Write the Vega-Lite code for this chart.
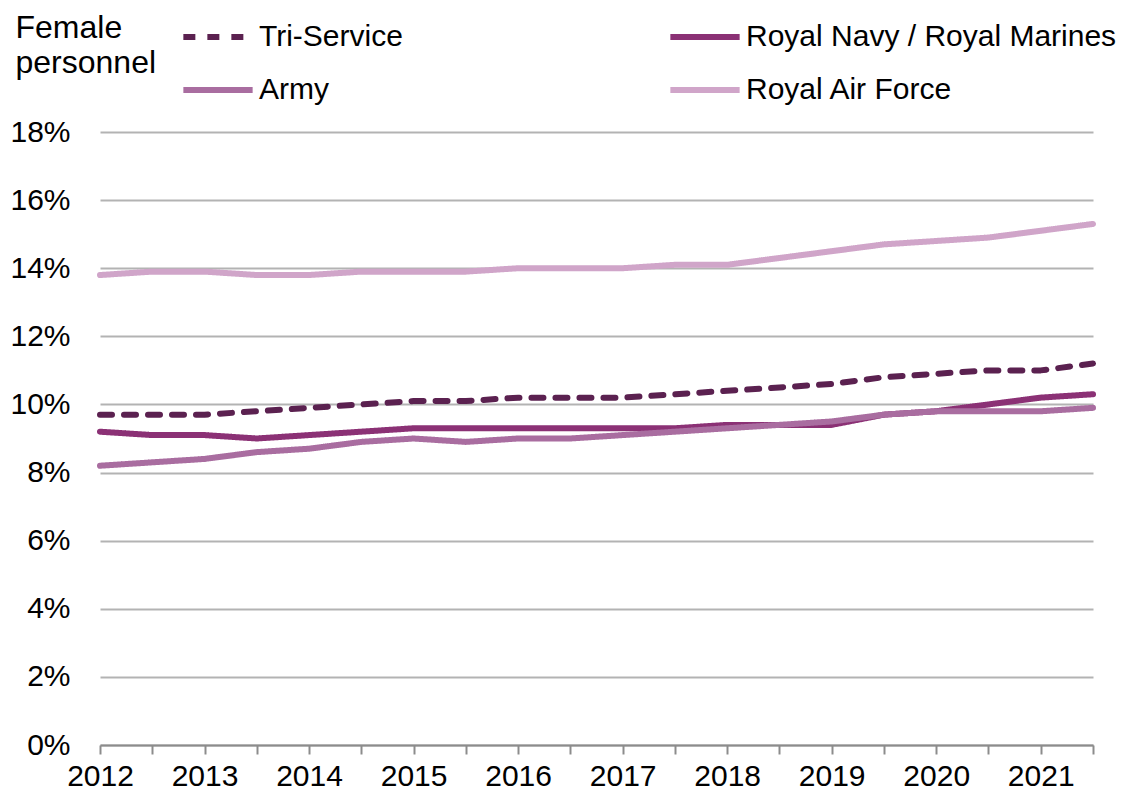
{
  "$schema": "https://vega.github.io/schema/vega-lite/v6.json",
  "width": 993,
  "height": 613,
  "autosize": {"type": "none"},
  "padding": {"left": 100, "top": 132, "right": 54, "bottom": 49},
  "background": "white",
  "config": {
    "font": "Liberation Sans",
    "view": {"stroke": null}
  },
  "data": {
    "values": [
      {"year": 2012, "service": "Tri-Service", "value": 9.7},
      {"year": 2012.5, "service": "Tri-Service", "value": 9.7},
      {"year": 2013, "service": "Tri-Service", "value": 9.7},
      {"year": 2013.5, "service": "Tri-Service", "value": 9.8},
      {"year": 2014, "service": "Tri-Service", "value": 9.9},
      {"year": 2014.5, "service": "Tri-Service", "value": 10.0},
      {"year": 2015, "service": "Tri-Service", "value": 10.1},
      {"year": 2015.5, "service": "Tri-Service", "value": 10.1},
      {"year": 2016, "service": "Tri-Service", "value": 10.2},
      {"year": 2016.5, "service": "Tri-Service", "value": 10.2},
      {"year": 2017, "service": "Tri-Service", "value": 10.2},
      {"year": 2017.5, "service": "Tri-Service", "value": 10.3},
      {"year": 2018, "service": "Tri-Service", "value": 10.4},
      {"year": 2018.5, "service": "Tri-Service", "value": 10.5},
      {"year": 2019, "service": "Tri-Service", "value": 10.6},
      {"year": 2019.5, "service": "Tri-Service", "value": 10.8},
      {"year": 2020, "service": "Tri-Service", "value": 10.9},
      {"year": 2020.5, "service": "Tri-Service", "value": 11.0},
      {"year": 2021, "service": "Tri-Service", "value": 11.0},
      {"year": 2021.5, "service": "Tri-Service", "value": 11.2},

      {"year": 2012, "service": "Royal Navy / Royal Marines", "value": 9.2},
      {"year": 2012.5, "service": "Royal Navy / Royal Marines", "value": 9.1},
      {"year": 2013, "service": "Royal Navy / Royal Marines", "value": 9.1},
      {"year": 2013.5, "service": "Royal Navy / Royal Marines", "value": 9.0},
      {"year": 2014, "service": "Royal Navy / Royal Marines", "value": 9.1},
      {"year": 2014.5, "service": "Royal Navy / Royal Marines", "value": 9.2},
      {"year": 2015, "service": "Royal Navy / Royal Marines", "value": 9.3},
      {"year": 2015.5, "service": "Royal Navy / Royal Marines", "value": 9.3},
      {"year": 2016, "service": "Royal Navy / Royal Marines", "value": 9.3},
      {"year": 2016.5, "service": "Royal Navy / Royal Marines", "value": 9.3},
      {"year": 2017, "service": "Royal Navy / Royal Marines", "value": 9.3},
      {"year": 2017.5, "service": "Royal Navy / Royal Marines", "value": 9.3},
      {"year": 2018, "service": "Royal Navy / Royal Marines", "value": 9.4},
      {"year": 2018.5, "service": "Royal Navy / Royal Marines", "value": 9.4},
      {"year": 2019, "service": "Royal Navy / Royal Marines", "value": 9.4},
      {"year": 2019.5, "service": "Royal Navy / Royal Marines", "value": 9.7},
      {"year": 2020, "service": "Royal Navy / Royal Marines", "value": 9.8},
      {"year": 2020.5, "service": "Royal Navy / Royal Marines", "value": 10.0},
      {"year": 2021, "service": "Royal Navy / Royal Marines", "value": 10.2},
      {"year": 2021.5, "service": "Royal Navy / Royal Marines", "value": 10.3},

      {"year": 2012, "service": "Army", "value": 8.2},
      {"year": 2012.5, "service": "Army", "value": 8.3},
      {"year": 2013, "service": "Army", "value": 8.4},
      {"year": 2013.5, "service": "Army", "value": 8.6},
      {"year": 2014, "service": "Army", "value": 8.7},
      {"year": 2014.5, "service": "Army", "value": 8.9},
      {"year": 2015, "service": "Army", "value": 9.0},
      {"year": 2015.5, "service": "Army", "value": 8.9},
      {"year": 2016, "service": "Army", "value": 9.0},
      {"year": 2016.5, "service": "Army", "value": 9.0},
      {"year": 2017, "service": "Army", "value": 9.1},
      {"year": 2017.5, "service": "Army", "value": 9.2},
      {"year": 2018, "service": "Army", "value": 9.3},
      {"year": 2018.5, "service": "Army", "value": 9.4},
      {"year": 2019, "service": "Army", "value": 9.5},
      {"year": 2019.5, "service": "Army", "value": 9.7},
      {"year": 2020, "service": "Army", "value": 9.8},
      {"year": 2020.5, "service": "Army", "value": 9.8},
      {"year": 2021, "service": "Army", "value": 9.8},
      {"year": 2021.5, "service": "Army", "value": 9.9},

      {"year": 2012, "service": "Royal Air Force", "value": 13.8},
      {"year": 2012.5, "service": "Royal Air Force", "value": 13.9},
      {"year": 2013, "service": "Royal Air Force", "value": 13.9},
      {"year": 2013.5, "service": "Royal Air Force", "value": 13.8},
      {"year": 2014, "service": "Royal Air Force", "value": 13.8},
      {"year": 2014.5, "service": "Royal Air Force", "value": 13.9},
      {"year": 2015, "service": "Royal Air Force", "value": 13.9},
      {"year": 2015.5, "service": "Royal Air Force", "value": 13.9},
      {"year": 2016, "service": "Royal Air Force", "value": 14.0},
      {"year": 2016.5, "service": "Royal Air Force", "value": 14.0},
      {"year": 2017, "service": "Royal Air Force", "value": 14.0},
      {"year": 2017.5, "service": "Royal Air Force", "value": 14.1},
      {"year": 2018, "service": "Royal Air Force", "value": 14.1},
      {"year": 2018.5, "service": "Royal Air Force", "value": 14.3},
      {"year": 2019, "service": "Royal Air Force", "value": 14.5},
      {"year": 2019.5, "service": "Royal Air Force", "value": 14.7},
      {"year": 2020, "service": "Royal Air Force", "value": 14.8},
      {"year": 2020.5, "service": "Royal Air Force", "value": 14.9},
      {"year": 2021, "service": "Royal Air Force", "value": 15.1},
      {"year": 2021.5, "service": "Royal Air Force", "value": 15.3}
    ]
  },
  "mark": {"type": "line", "strokeWidth": 6, "strokeCap": "round", "strokeJoin": "round"},
  "encoding": {
    "x": {
      "field": "year",
      "type": "quantitative",
      "scale": {"domain": [2012, 2021.5], "nice": false, "zero": false},
      "axis": {
        "title": null,
        "grid": false,
        "values": [2012, 2012.5, 2013, 2013.5, 2014, 2014.5, 2015, 2015.5, 2016, 2016.5, 2017, 2017.5, 2018, 2018.5, 2019, 2019.5, 2020, 2020.5, 2021, 2021.5],
        "labelExpr": "datum.value % 1 === 0 ? format(datum.value, 'd') : ''",
        "labelFontSize": 30,
        "labelColor": "#000000",
        "labelPadding": 7,
        "labelFlush": false,
        "labelOverlap": false,
        "domainColor": "#8c8c8c",
        "domainWidth": 2,
        "tickColor": "#8c8c8c",
        "tickWidth": 2,
        "tickSize": 9
      }
    },
    "y": {
      "field": "value",
      "type": "quantitative",
      "scale": {"domain": [0, 18], "nice": false},
      "axis": {
        "values": [0, 2, 4, 6, 8, 10, 12, 14, 16, 18],
        "labelExpr": "datum.value + '%'",
        "labelFontSize": 30,
        "labelColor": "#000000",
        "labelPadding": 30,
        "domain": false,
        "ticks": false,
        "gridColor": "#b3b3b3",
        "gridWidth": 2,
        "title": ["Female", "personnel"],
        "titleAngle": 0,
        "titleX": -85,
        "titleY": -95,
        "titleAlign": "left",
        "titleBaseline": "alphabetic",
        "titleFontSize": 32,
        "titleFontWeight": "normal",
        "titleLineHeight": 35,
        "titleColor": "#000000"
      }
    },
    "color": {
      "field": "service",
      "type": "nominal",
      "sort": ["Tri-Service", "Army", "Royal Navy / Royal Marines", "Royal Air Force"],
      "scale": {
        "domain": ["Tri-Service", "Army", "Royal Navy / Royal Marines", "Royal Air Force"],
        "range": ["#5b2150", "#a96da0", "#8b3175", "#d0a5c9"]
      },
      "legend": {
        "title": null,
        "orient": "none",
        "legendX": 80,
        "legendY": -133,
        "columns": 2,
        "columnPadding": 255,
        "rowPadding": -16,
        "symbolType": "stroke",
        "symbolSize": 4800,
        "symbolStrokeWidth": 6,
        "labelFontSize": 30,
        "labelColor": "#000000",
        "labelOffset": 3,
        "labelLimit": 600
      }
    },
    "strokeDash": {
      "field": "service",
      "type": "nominal",
      "sort": ["Tri-Service", "Army", "Royal Navy / Royal Marines", "Royal Air Force"],
      "scale": {
        "domain": ["Tri-Service", "Army", "Royal Navy / Royal Marines", "Royal Air Force"],
        "range": [[12, 12], [1, 0], [1, 0], [1, 0]]
      },
      "legend": null
    },
    "order": {"field": "year"}
  }
}
